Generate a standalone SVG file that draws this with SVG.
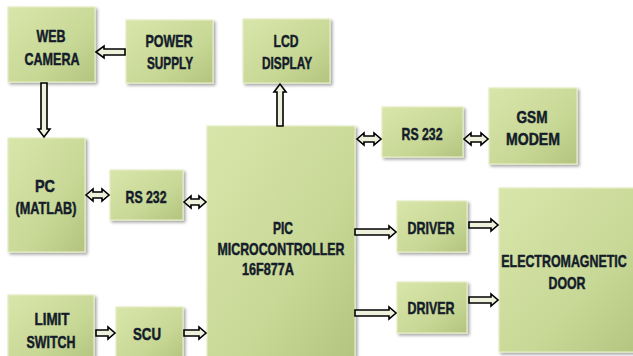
<svg xmlns="http://www.w3.org/2000/svg" width="633" height="356" viewBox="0 0 633 356">
<defs>
<linearGradient id="g" x1="0" y1="0" x2="1" y2="1">
<stop offset="0" stop-color="#d9e6ab"/>
<stop offset="0.6" stop-color="#c8d896"/>
<stop offset="1" stop-color="#b3c47f"/>
</linearGradient>
<filter id="sh" x="-10%" y="-10%" width="130%" height="130%">
<feDropShadow dx="2" dy="2" stdDeviation="1.5" flood-color="#000" flood-opacity="0.35"/>
</filter>
</defs>
<style>
.box{fill:url(#g);stroke:#e4edc4;stroke-width:1.2;filter:url(#sh)}
.t{font-family:"Liberation Sans",Arial,sans-serif;font-weight:bold;font-size:17px;fill:#141c2a;stroke:#141c2a;stroke-width:0.5;text-anchor:middle}
.ar{fill:#eef2dd;stroke:#000;stroke-width:1.6;stroke-linejoin:miter}
</style>
<rect width="633" height="356" fill="#fff"/>
<g id="web-camera"><rect class="box" x="8" y="7" width="87" height="75"/>
<text class="t" x="51" y="42" textLength="29" lengthAdjust="spacingAndGlyphs">WEB</text>
<text class="t" x="52" y="65" textLength="55" lengthAdjust="spacingAndGlyphs">CAMERA</text></g>
<g id="power-supply"><rect class="box" x="126" y="20" width="87" height="63"/>
<text class="t" x="169" y="47" textLength="47" lengthAdjust="spacingAndGlyphs">POWER</text>
<text class="t" x="170" y="69" textLength="46" lengthAdjust="spacingAndGlyphs">SUPPLY</text></g>
<g id="lcd-display"><rect class="box" x="243" y="19" width="87" height="64"/>
<text class="t" x="286" y="47" textLength="25" lengthAdjust="spacingAndGlyphs">LCD</text>
<text class="t" x="287" y="69" textLength="50" lengthAdjust="spacingAndGlyphs">DISPLAY</text></g>
<g id="pc"><rect class="box" x="8" y="138" width="77" height="114"/>
<text class="t" x="45" y="192" textLength="20" lengthAdjust="spacingAndGlyphs">PC</text>
<text class="t" x="46" y="214" textLength="61" lengthAdjust="spacingAndGlyphs">(MATLAB)</text></g>
<g id="rs232-left"><rect class="box" x="110" y="170" width="73" height="50"/>
<text class="t" x="146" y="203" textLength="41" lengthAdjust="spacingAndGlyphs">RS 232</text></g>
<g id="pic"><rect class="box" x="207" y="126" width="148" height="236"/>
<text class="t" x="283" y="234" textLength="20" lengthAdjust="spacingAndGlyphs">PIC</text>
<text class="t" x="281" y="255" textLength="127" lengthAdjust="spacingAndGlyphs">MICROCONTROLLER</text>
<text class="t" x="268" y="275" textLength="52" lengthAdjust="spacingAndGlyphs">16F877A</text></g>
<g id="rs232-right"><rect class="box" x="382" y="107" width="81" height="50"/>
<text class="t" x="422" y="140" textLength="41" lengthAdjust="spacingAndGlyphs">RS 232</text></g>
<g id="gsm-modem"><rect class="box" x="489" y="88" width="88" height="76"/>
<text class="t" x="532" y="123" textLength="31" lengthAdjust="spacingAndGlyphs">GSM</text>
<text class="t" x="533" y="145" textLength="54" lengthAdjust="spacingAndGlyphs">MODEM</text></g>
<g id="limit-switch"><rect class="box" x="8" y="295" width="86" height="66"/>
<text class="t" x="52" y="325" textLength="35" lengthAdjust="spacingAndGlyphs">LIMIT</text>
<text class="t" x="51" y="348" textLength="49" lengthAdjust="spacingAndGlyphs">SWITCH</text></g>
<g id="scu"><rect class="box" x="116" y="307" width="67" height="54"/>
<text class="t" x="147" y="340" textLength="28" lengthAdjust="spacingAndGlyphs">SCU</text></g>
<g id="driver-1"><rect class="box" x="397" y="201" width="70" height="51"/>
<text class="t" x="431" y="234" textLength="47" lengthAdjust="spacingAndGlyphs">DRIVER</text></g>
<g id="driver-2"><rect class="box" x="397" y="282" width="70" height="51"/>
<text class="t" x="431" y="314" textLength="47" lengthAdjust="spacingAndGlyphs">DRIVER</text></g>
<g id="electromagnetic-door"><rect class="box" x="499" y="188" width="145" height="164"/>
<text class="t" transform="translate(564,267) scale(0.73,1)" x="0" y="0">ELECTROMAGNETIC</text>
<text class="t" x="567" y="289" textLength="37" lengthAdjust="spacingAndGlyphs">DOOR</text></g>
<g id="connectors">
<path class="ar" d="M96,52 L104,46 L104,49 L125,49 L125,55 L104,55 L104,58 Z"/>
<path class="ar" d="M41,83 L47,83 L47,129 L50,129 L44,137 L38,129 L41,129 Z"/>
<path class="ar" d="M277,126 L277,92 L274,92 L280,84 L286,92 L283,92 L283,126 Z"/>
<path class="ar" d="M86,195 L93,189 L93,192 L102,192 L102,189 L109,195 L102,201 L102,198 L93,198 L93,201 Z"/>
<path class="ar" d="M184,202 L191,196 L191,199 L199,199 L199,196 L206,202 L199,208 L199,205 L191,205 L191,208 Z"/>
<path class="ar" d="M357,139 L364,133 L364,136 L374,136 L374,133 L381,139 L374,145 L374,142 L364,142 L364,145 Z"/>
<path class="ar" d="M464,139 L471,133 L471,136 L481,136 L481,133 L488,139 L481,145 L481,142 L471,142 L471,145 Z"/>
<path class="ar" d="M355,229 L389,229 L389,226 L396,232 L389,238 L389,235 L355,235 Z"/>
<path class="ar" d="M355,310 L389,310 L389,307 L396,313 L389,319 L389,316 L355,316 Z"/>
<path class="ar" d="M469,222 L491,222 L491,219 L498,225 L491,231 L491,228 L469,228 Z"/>
<path class="ar" d="M469,297 L491,297 L491,294 L498,300 L491,306 L491,303 L469,303 Z"/>
<path class="ar" d="M96,330 L108,330 L108,327 L115,333 L108,339 L108,336 L96,336 Z"/>
<path class="ar" d="M184,330 L199,330 L199,327 L206,333 L199,339 L199,336 L184,336 Z"/>
</g>
</svg>
